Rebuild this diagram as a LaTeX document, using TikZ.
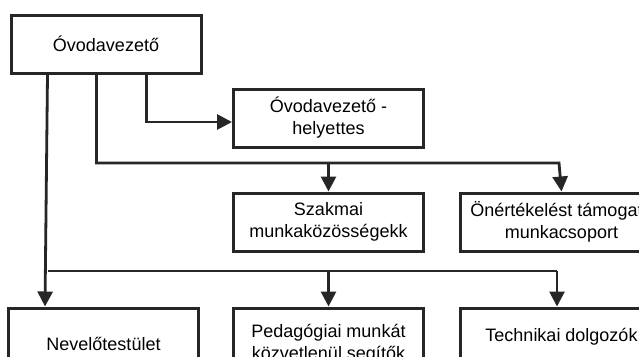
\documentclass[tikz,border=0pt]{standalone}
\usepackage{fontspec}
\setmainfont{Liberation Sans}
\usetikzlibrary{arrows.meta, positioning}

\begin{document}
\begin{tikzpicture}[
    x=1pt, y=-1pt,
    every node/.style={font=\fontsize{18}{22}\selectfont},
    box/.style={draw=black!85, fill=white, rectangle, line width=3pt, minimum width=190pt, minimum height=58pt, align=center, inner sep=2pt},
    arrow/.style={line width=2.8pt, color=black!85, -{Triangle[length=15pt, width=15pt]}},
    line/.style={line width=2.8pt, color=black!85}
]
\useasboundingbox (0,0) rectangle (639,356);
\clip (0,0) rectangle (639,356);

\node (vez) [box] at (106,44) {Óvodavezető};
\node (hely) [box] at (328.5,118) {Óvodavezető -\\helyettes};
\node (szakmai) [box, below=43pt of hely] {Szakmai\\munkaközösségekk};
\node (onert) [box, minimum width=202pt, right=34pt of szakmai] {Önértékelést támogató\\munkacsoport};
\node (pedag) [box, minimum height=72pt, below=54pt of szakmai] {Pedagógiai munkát\\közvetlenül segítők};
\node (nevelo) [box, minimum height=72pt, left=32pt of pedag] {Nevelőtestület};
\node (techn) [box, minimum width=202pt, below=54pt of onert] {Technikai dolgozók};

\coordinate (bus1) at (559,163);
\coordinate (bus2) at (557,271);

\draw [arrow] ([xshift=137pt]vez.south west) |- ([yshift=-4pt]hely.west);
\draw [arrow] ([xshift=87pt]vez.south west) |- (bus1) -- (onert.north);
\draw [arrow] (szakmai.north |- bus1) -- (szakmai.north);
\draw [arrow] ([xshift=38pt]vez.south west) -- ([xshift=38pt]nevelo.north west);
\draw [line] ([xshift=38pt]vez.south west |- bus2) -- (bus2);
\draw [arrow] (pedag.north |- bus2) -- (pedag.north);
\draw [arrow] (bus2) -- (bus2 |- techn.north);

\end{tikzpicture}
\end{document}
